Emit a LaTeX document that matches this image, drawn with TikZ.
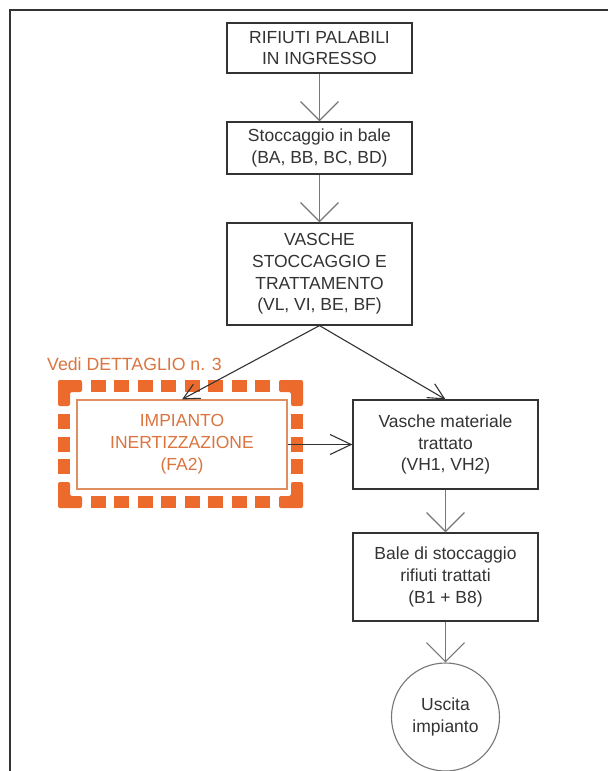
\documentclass[tikz,border=0pt]{standalone}
\usepackage{fontspec}
\setmainfont{Liberation Sans}
\usetikzlibrary{arrows.meta}
\definecolor{ink}{HTML}{333333}
\definecolor{lgray}{HTML}{777777}
\definecolor{orng}{HTML}{EB6A2C}
\definecolor{otext}{HTML}{DB743F}
\definecolor{oline}{HTML}{DE8E60}
\begin{document}
\begin{tikzpicture}[x=1pt,y=-1pt,
  box/.style={draw=ink, line width=1.2pt, minimum width=185pt, align=center, inner sep=0pt,
    font=\fontsize{17.5}{21.7}\selectfont, text=ink},
  obox/.style={box, draw=oline, line width=1.2pt, minimum width=210pt, text=otext,
    font=\fontsize{17.5}{22}\selectfont},
  varr/.style={draw=lgray, line width=1.2pt, -{Straight Barb[length=19pt,width=38pt,line width=1.2pt]}},
  darr/.style={draw=ink, line width=1.1pt, -{Straight Barb[length=16pt,width=16pt,line width=1.1pt]}},
  harr/.style={draw=ink, line width=1.1pt, -{Straight Barb[length=21pt,width=20pt,line width=1.1pt]}},
  opiece/.style={fill=orng, rounded corners=2pt},
]
\useasboundingbox (0,0) rectangle (608,771);
\fill[white] (0,0) rectangle (608,771);
\draw[ink, line width=2.5pt] (10,771) -- (10,10) -- (608,10);

\node[box, minimum height=50pt] (b1) at (319.5,48) {RIFIUTI PALABILI\\IN INGRESSO};
\node[box, minimum height=52pt] (b2) at (319.5,148) {Stoccaggio in bale\\(BA, BB, BC, BD)};
\node[box, minimum height=102pt] (b3) at (319.5,274) {VASCHE\\STOCCAGGIO E\\TRATTAMENTO\\(VL, VI, BE, BF)};
\node[box, minimum height=89pt] (vm) at (445.5,444.5) {Vasche materiale\\trattato\\(VH1, VH2)};
\node[obox, minimum height=89pt] (ine) at (182,444.5) {IMPIANTO\\INERTIZZAZIONE\\(FA2)};
\node[box, minimum height=88pt] (bale) at (445.5,577) {Bale di stoccaggio\\rifiuti trattati\\(B1 + B8)};
\node[box, circle, draw=lgray, line width=1.1pt, minimum width=0pt, minimum size=108pt] (out) at (445.5,717) {Uscita\\impianto};

\node[anchor=west, inner sep=0pt, text=otext, font=\fontsize{17.7}{20}\selectfont] (vedi) at (47,364) {Vedi DETTAGLIO n. 3};

% orange dashed frame: corner L pieces
\fill[opiece] (58,380) -- (82,380) -- (82,392) -- (70,392) -- (70,406) -- (58,406) -- cycle;
\fill[opiece] (303,380) -- (279,380) -- (279,392) -- (291,392) -- (291,406) -- (303,406) -- cycle;
\fill[opiece] (58,508) -- (82,508) -- (82,496) -- (70,496) -- (70,482) -- (58,482) -- cycle;
\fill[opiece] (303,508) -- (279,508) -- (279,496) -- (291,496) -- (291,482) -- (303,482) -- cycle;
% orange dashed frame: squares
\foreach \i in {0,...,7} {
  \fill[orng] ({90.55+\i*23.55},380) rectangle +(15,12);
  \fill[orng] ({90.55+\i*23.55},496) rectangle +(15,12);
}
\foreach \j in {0,1,2} {
  \fill[orng] (58,{413.75+\j*22.75}) rectangle +(12,15);
  \fill[orng] (291,{413.75+\j*22.75}) rectangle +(12,15);
}

\draw[varr] (b1) -- (b2);
\draw[varr] (b2) -- (b3);
\draw[darr] (b3.south) -- (ine.north);
\draw[darr] (b3.south) -- (vm.north);
\draw[harr] (ine.east) -- (vm.west);
\draw[varr] (vm) -- (bale);
\draw[varr] (bale) -- (out);
\end{tikzpicture}
\end{document}
